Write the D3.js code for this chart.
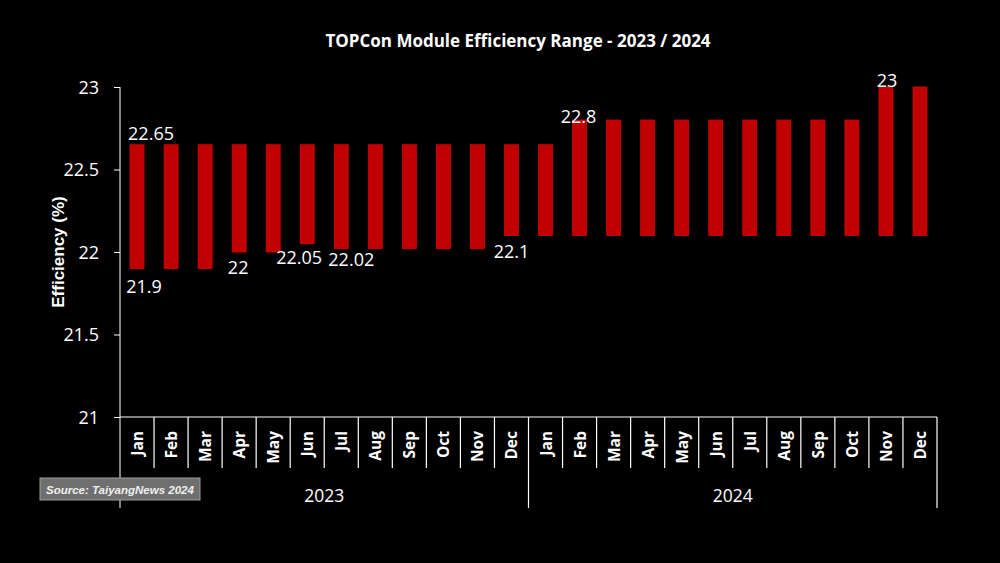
<!DOCTYPE html>
<html>
<head>
<meta charset="utf-8">
<script src="https://cdn.jsdelivr.net/npm/d3@7"></script>
<style>
  body { margin: 0; background: #000; }
  svg { display: block; }
</style>
</head>
<body>
<script>
// data
var years = ["2023", "2024"];
var months = ["Jan","Feb","Mar","Apr","May","Jun","Jul","Aug","Sep","Oct","Nov","Dec"];
var lowValues = [21.9, 21.9, 21.9, 22, 22, 22.05, 22.02, 22.02, 22.02, 22.02, 22.02, 22.1,
                 22.1, 22.1, 22.1, 22.1, 22.1, 22.1, 22.1, 22.1, 22.1, 22.1, 22.1, 22.1];
var highValues = [22.65, 22.65, 22.65, 22.65, 22.65, 22.65, 22.65, 22.65, 22.65, 22.65, 22.65, 22.65,
                  22.65, 22.8, 22.8, 22.8, 22.8, 22.8, 22.8, 22.8, 22.8, 22.8, 23, 23];
var yTicks = [21, 21.5, 22, 22.5, 23];
// which bars carry a value label, and which end
var labelled = [
  { i: 0, end: "high" }, { i: 0, end: "low" }, { i: 3, end: "low" },
  { i: 5, end: "low" }, { i: 6, end: "low" }, { i: 11, end: "low" },
  { i: 13, end: "high" }, { i: 22, end: "high" }
];

var W = 1000, H = 563;
var margin = { top: 87, right: 63, bottom: 146, left: 120 };
var plotW = W - margin.left - margin.right;
var plotH = H - margin.top - margin.bottom;

var cats = [];
years.forEach(function(y) { months.forEach(function(m) { cats.push(y + "-" + m); }); });
var bars = cats.map(function(c, i) { return { key: c, month: c.split("-")[1], low: lowValues[i], high: highValues[i] }; });

var svg = d3.select("body").append("svg")
    .attr("width", W).attr("height", H)
    .style("background", "#000");

var g = svg.append("g").attr("transform", "translate(" + margin.left + "," + margin.top + ")");

var x = d3.scaleBand().domain(cats).range([0, plotW]).paddingInner(0.59).paddingOuter(0.295);
var y = d3.scaleLinear().domain([21, 23]).range([plotH, 0]);
var step = x.step();

// title
svg.append("text")
    .attr("x", 518).attr("y", 47)
    .attr("text-anchor", "middle")
    .style("font-family", "'Open Sans', sans-serif")
    .style("font-weight", "bold")
    .style("font-size", "17px")
    .style("fill", "#fff")
    .text("TOPCon Module Efficiency Range - 2023 / 2024");

// y axis
var yAxis = g.append("g")
    .call(d3.axisLeft(y).tickValues(yTicks).tickSize(6).tickPadding(15).tickFormat(d3.format("")));
yAxis.select(".domain").attr("stroke", "#fff").attr("d", "M0," + (plotH + 91) + "V0");
yAxis.selectAll(".tick line").attr("stroke", "#fff");
yAxis.selectAll(".tick text")
    .attr("dy", "0.35em")
    .style("font-family", "'Open Sans', sans-serif")
    .style("font-size", "18px")
    .style("fill", "#fff");

svg.append("text")
    .attr("transform", "translate(58,252) rotate(-90)")
    .attr("text-anchor", "middle")
    .attr("dominant-baseline", "central")
    .style("font-family", "'Liberation Sans', Arial, sans-serif")
    .style("font-weight", "bold")
    .style("font-size", "17px")
    .style("fill", "#fff")
    .text("Efficiency (%)");

// x axis baseline
g.append("line")
    .attr("x1", 0).attr("x2", plotW)
    .attr("y1", plotH).attr("y2", plotH)
    .attr("stroke", "#fff").attr("stroke-width", 1.2);

// month separators
g.selectAll(".msep")
    .data(cats.slice(1).filter(function(c, i) { return (i + 1) % 12 !== 0; }))
    .enter().append("line")
    .attr("class", "msep")
    .attr("x1", function(d) { return x(d) - x.bandwidth() * 0.72; })
    .attr("x2", function(d) { return x(d) - x.bandwidth() * 0.72; })
    .attr("y1", plotH).attr("y2", plotH + 51)
    .attr("stroke", "#fff").attr("stroke-width", 1.2);

// year separators
g.selectAll(".ysep")
    .data(years)
    .enter().append("line")
    .attr("class", "ysep")
    .attr("x1", function(d, i) { return (i + 1) * 12 * step; })
    .attr("x2", function(d, i) { return (i + 1) * 12 * step; })
    .attr("y1", plotH).attr("y2", plotH + 91)
    .attr("stroke", "#fff").attr("stroke-width", 1.2);

// month labels
g.selectAll(".mlab")
    .data(bars)
    .enter().append("text")
    .attr("class", "mlab")
    .attr("transform", function(d) {
      return "translate(" + (x(d.key) + x.bandwidth() / 2) + "," + (plotH + 14) + ") rotate(-90)";
    })
    .attr("text-anchor", "end")
    .attr("dominant-baseline", "central")
    .style("font-family", "'Open Sans', sans-serif")
    .style("font-weight", "bold")
    .style("font-size", "15.5px")
    .style("fill", "#fff")
    .text(function(d) { return d.month; });

// year labels
g.selectAll(".ylab")
    .data(years)
    .enter().append("text")
    .attr("class", "ylab")
    .attr("x", function(d, i) { return (i + 0.5) * 12 * step; })
    .attr("y", plotH + 85)
    .attr("text-anchor", "middle")
    .style("font-family", "'Open Sans', sans-serif")
    .style("font-size", "17.5px")
    .style("fill", "#fff")
    .text(function(d) { return d; });

// floating bars
g.selectAll(".bar")
    .data(bars)
    .enter().append("rect")
    .attr("class", "bar")
    .attr("x", function(d) { return x(d.key); })
    .attr("width", x.bandwidth())
    .attr("y", function(d) { return y(d.high); })
    .attr("height", function(d) { return y(d.low) - y(d.high); })
    .attr("fill", "#c00000")
    .attr("stroke", "#d80000")
    .attr("stroke-width", 0.8);

// value labels
var labelOffsets = {
  "0-high": [14, -5], "0-low": [7, 24], "3-low": [-1, 22], "5-low": [-8, 20],
  "6-low": [10, 17], "11-low": [0, 22], "13-high": [-1, 3], "22-high": [1, 0]
};
g.selectAll(".vlab")
    .data(labelled)
    .enter().append("text")
    .attr("class", "vlab")
    .attr("x", function(d) { return x(cats[d.i]) + x.bandwidth() / 2 + labelOffsets[d.i + "-" + d.end][0]; })
    .attr("y", function(d) {
      var v = d.end === "high" ? highValues[d.i] : lowValues[d.i];
      return y(v) + labelOffsets[d.i + "-" + d.end][1];
    })
    .attr("text-anchor", "middle")
    .style("font-family", "'Open Sans', sans-serif")
    .style("font-size", "18px")
    .style("fill", "#fff")
    .text(function(d) { return d.end === "high" ? highValues[d.i] : lowValues[d.i]; });

// source box
var src = svg.append("g").attr("transform", "translate(40,478)");
src.append("rect")
    .attr("width", 160).attr("height", 22)
    .attr("fill", "#6f6f6f")
    .attr("stroke", "#a0a0a0").attr("stroke-width", 1);
src.append("text")
    .attr("x", 6).attr("y", 15.5)
    .style("font-family", "'Liberation Sans', Arial, sans-serif")
    .style("font-weight", "bold")
    .style("font-style", "italic")
    .style("font-size", "11.5px")
    .style("fill", "#f0f0f0")
    .text("Source: TaiyangNews 2024");
</script>
</body>
</html>
